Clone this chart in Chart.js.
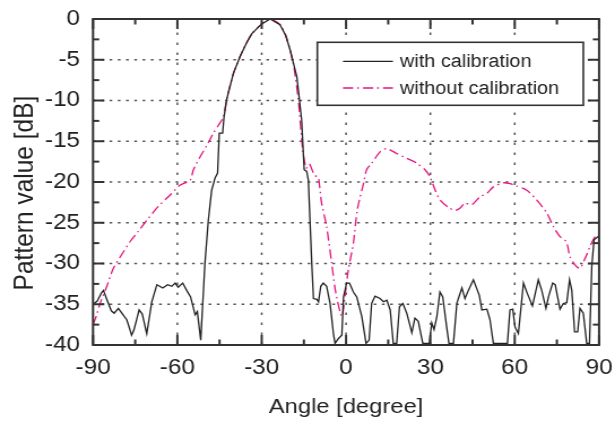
<!DOCTYPE html>
<html>
<head>
<meta charset="utf-8">
<script src="https://cdn.jsdelivr.net/npm/chart.js@4.4.1/dist/chart.umd.min.js"></script>
<style>
  html, body { margin: 0 ; padding: 0 ; background: #fff ; overflow: hidden ; }
  /* the source figure is stretched sideways, so the canvas is too */
  #wrap { width: 544px ; height: 423px ; transform: scaleX( 1.1305 ) ; transform-origin: 0 0 ; }
</style>
</head>
<body>
<div id="wrap"><canvas id="patternChart" width="544" height="423"></canvas></div>
<script>
// ---------------- Data -------------------------------------------------------
const X_TITLE = "Angle [degree]" ;
const Y_TITLE = "Pattern value [dB]" ;
const CAL_LABEL = "with calibration" ;
const RAW_LABEL = "without calibration" ;

const xTickValues = [ -90, -60, -30, 0, 30, 60, 90 ] ;
const yTickValues = [ 0, -5, -10, -15, -20, -25, -30, -35, -40 ] ;

const calAngles = [
  -90, -88.5, -87, -86.3, -85, -83.5, -82.5, -81, -79.5, -78, -77, -76.3, -75.5,
  -73.6, -72.5, -70.9, -69.1, -67.3, -65.2, -63.5, -62, -60.8, -59.7, -58.1,
  -56.7, -55.3, -53.7, -52.9, -51.7, -50.2, -49, -47.8, -46.6, -45.7, -45.1,
  -43.9, -43.4, -42.5, -40.1, -37.7, -35.5, -33.5, -30, -27, -23.5, -21.5,
  -19.9, -17.5, -15.8, -14.9, -14, -13.4, -12.2, -11.6, -10.4, -9.8, -9, -8.1,
  -6.9, -5.7, -4.5, -3.9, -2.7, -1.5, -0.9, 0.2, 1.2, 2.6, 3.8, 5.6, 7.1, 8.2,
  9.1, 10.3, 12.1, 13.3, 14.5, 15.7, 16.8, 18, 19, 20.2, 21.6, 23.4, 24.5,
  25.7, 27.3, 29.6, 30.5, 31.3, 32.3, 33.4, 34.4, 35.8, 36.6, 38.2, 39.4, 41.2,
  42.3, 43.5, 45.3, 47.4, 48.3, 50.1, 51.2, 52.4, 57.4, 58.3, 59.3, 60.1, 61.3,
  63.1, 64.5, 66.3, 68.4, 69.6, 71.1, 72, 73.5, 74.4, 76.1, 77.3, 78.5, 79.5,
  80.3, 81.3, 82.4, 83.2, 84.4, 85.6, 86.6, 87.4, 88.2, 89.7
] ;
const calValues = [
  -35, -34.6, -33.6, -33.3, -34.5, -35.8, -36.1, -35.5, -36.2, -36.9, -38, -38.8, -38.2,
  -35.7, -36.2, -38.6, -34.7, -32.6, -33, -32.6, -32.8, -32.4, -32.9, -32.4,
  -33.3, -34.1, -36.3, -35.9, -39.4, -30, -24.7, -21, -19.5, -18.9, -14,
  -14, -12, -9.9, -6.7, -4.6, -3, -1.8, -0.6, 0, -0.7, -2,
  -3.8, -7.1, -12.4, -18.5, -18.7, -19.8, -30, -34.3, -34.4, -34.7, -32.8, -32.4,
  -32.8, -34.9, -38.6, -39.8, -39.2, -38.8, -34.1, -32.4, -32.4, -33.5, -34.1, -36.5, -39.8, -39.4,
  -34.9, -34, -34.3, -34.7, -34.5, -35.7, -39.8, -39.8, -35.3, -34.9, -36.1, -38.5, -36.7,
  -37.1, -39.8, -39.8, -37.3, -38.1, -36.5, -33.5, -34.1, -37.8, -39.8, -39.8, -34.9, -33,
  -34.3, -33.3, -32, -33.9, -35.7, -35.6, -36.9, -39.8, -39.8, -35.7, -35.6, -37.8, -38.6,
  -32.4, -33.7, -35.2, -32, -33.3, -35.5, -34.1, -32.4, -32.6, -35.6, -34.9, -34.8, -32,
  -33.3, -38.4, -38.4, -35.5, -36.1, -39.8, -39.8, -30.4, -27.1, -26.7
] ;

const rawAngles = [
  -90, -88.9, -87.5, -85.1, -82.8, -79.8, -76.8, -73.8, -70.9, -66.8, -62.6,
  -59.1, -55.5, -54.3, -51.9, -49.5, -47.2, -45.5, -43.6, -42.5, -40.1, -37.7,
  -35.5, -33.5, -30, -27, -23.5, -21.5, -19.9, -18.5, -17, -15.4, -14.2, -13.2,
  -12.8, -11.6, -10.4, -9.8, -8.7, -6.9, -5.1, -3.6, -1.5, -0.4, 0.8, 2.6, 4,
  6.2, 7.3, 9.1, 12.1, 14.5, 18, 21.6, 25.2, 28.1, 29.9, 31.7, 33.4, 36.4, 38.8,
  40.6, 42.3, 44.7, 47.7, 50.1, 52.4, 56, 58.3, 60.7, 64.3, 67.8, 71.4, 73.8,
  76.1, 78.3, 79.7, 81.5, 83.2, 85, 86.8, 88.6, 90
] ;
const rawValues = [
  -37.5, -36.5, -34.9, -32.8, -30.6, -28.9, -27.3, -26, -24.7, -23, -21.6,
  -20.4, -19.8, -18.5, -16.9, -15.5, -14, -13.1, -12, -9.9, -6.7, -4.6,
  -3, -1.8, -0.6, 0, -0.7, -2, -3.8, -6, -9.9, -16.1, -18.3, -17.8,
  -17.9, -18.9, -19.4, -19.5, -22.6, -25.5, -30, -33.7, -36.5, -34.1, -30.8, -27.5, -23.4,
  -20.2, -18.5, -17.7, -16.3, -15.9, -16.5, -17.1, -17.7, -18.5, -19.4, -21, -22.2, -23.1, -23.5,
  -23.2, -22.6, -22.8, -21.8, -21.4, -20.6, -20.1, -20.2, -20.5, -21, -22.2, -23.8, -25.5,
  -26.7, -27.3, -29.2, -30.2, -30.6, -29.4, -27.9, -26.7, -26.5
] ;

// ---------------- Styles -----------------------------------------------------
const FONT_FAMILY = "'Liberation Sans', Arial, sans-serif" ;
const TEXT_COLOR = "#222" ;
const FRAME_COLOR = "#333" ;
const GRID_COLOR = "#555" ;
const CAL_COLOR = "#222" ;
const RAW_COLOR = "#e5157f" ;

function toPoints( xs, ys ) {
    return xs.map( function( x, i ) { return { x: x, y: ys[i] } ; } ) ;
}

// Major values come from the scale, minor marks sit half way between them
function minorValues( majors ) {
    var out = [] ;
    for( var i=1; i<majors.length; i++ ) {
        out.push( ( majors[i-1] + majors[i] ) / 2 ) ;
    }
    return out ;
}

function line( ctx, x1, y1, x2, y2 ) {
    ctx.beginPath() ;
    ctx.moveTo( x1, y1 ) ;
    ctx.lineTo( x2, y2 ) ;
    ctx.stroke() ;
}

// ---------------- Frame, grid, ticks and legend ------------------------------
const patternFrame = {
    id : 'patternFrame',

    beforeDatasetsDraw( chart ) {
        const ctx = chart.ctx ;
        const a = chart.chartArea ;
        const xs = chart.scales.x ;
        const ys = chart.scales.y ;
        const xMajor = xs.ticks.map( t => t.value ) ;
        const yMajor = ys.ticks.map( t => t.value ) ;

        ctx.save() ;
        ctx.strokeStyle = GRID_COLOR ;
        ctx.lineWidth = 1.5 ;

        ctx.setLineDash( [ 2.5, 7.5 ] ) ;
        xMajor.slice( 1, -1 ).forEach( v => {
            const px = xs.getPixelForValue( v ) ;
            line( ctx, px, a.bottom, px, a.top ) ;
        } ) ;

        ctx.setLineDash( [ 2.4, 4.9 ] ) ;
        yMajor.slice( 1, -1 ).forEach( v => {
            const py = ys.getPixelForValue( v ) ;
            line( ctx, a.left, py, a.right, py ) ;
        } ) ;
        ctx.restore() ;
    },

    afterDatasetsDraw( chart ) {
        const ctx = chart.ctx ;
        const a = chart.chartArea ;
        const xs = chart.scales.x ;
        const ys = chart.scales.y ;
        const xMajor = xs.ticks.map( t => t.value ) ;
        const yMajor = ys.ticks.map( t => t.value ) ;

        ctx.save() ;
        ctx.strokeStyle = FRAME_COLOR ;
        ctx.lineWidth = 2 ;
        ctx.setLineDash( [] ) ;

        // inward ticks on all four sides
        function xTick( v, len ) {
            const px = xs.getPixelForValue( v ) ;
            line( ctx, px, a.bottom, px, a.bottom - len ) ;
            line( ctx, px, a.top, px, a.top + len ) ;
        }
        function yTick( v, len ) {
            const py = ys.getPixelForValue( v ) ;
            line( ctx, a.left, py, a.left + len, py ) ;
            line( ctx, a.right, py, a.right - len, py ) ;
        }
        xMajor.forEach( v => xTick( v, 10 ) ) ;
        minorValues( xMajor ).forEach( v => xTick( v, 5.5 ) ) ;
        yMajor.forEach( v => yTick( v, 10 ) ) ;
        minorValues( yMajor ).forEach( v => yTick( v, 5.5 ) ) ;

        ctx.strokeRect( a.left, a.top, a.right - a.left, a.bottom - a.top ) ;

        // y title, sits a little below the middle of the plot
        ctx.fillStyle = TEXT_COLOR ;
        ctx.font = "24.5px " + FONT_FAMILY ;
        ctx.textAlign = "center" ;
        ctx.textBaseline = "middle" ;
        ctx.save() ;
        ctx.translate( 22.1, ( a.top + a.bottom ) / 2 + 11 ) ;
        ctx.rotate( -Math.PI / 2 ) ;
        ctx.fillText( Y_TITLE, 0, 0 ) ;
        ctx.restore() ;

        // legend box
        const box = { left: 280.7, top: 42.3, right: 516, bottom: 105.3 } ;
        ctx.fillStyle = "#fff" ;
        ctx.fillRect( box.left, box.top, box.right - box.left, box.bottom - box.top ) ;
        ctx.lineWidth = 1.6 ;
        ctx.strokeStyle = FRAME_COLOR ;
        ctx.strokeRect( box.left, box.top, box.right - box.left, box.bottom - box.top ) ;

        const rows = [ 61.3, 88 ] ;
        ctx.font = "17.6px " + FONT_FAMILY ;
        ctx.textAlign = "left" ;
        chart.data.datasets.forEach( ( ds, i ) => {
            ctx.strokeStyle = ds.borderColor ;
            ctx.lineWidth = ds.borderWidth ;
            ctx.setLineDash( ds.borderDash || [] ) ;
            line( ctx, 303.4, rows[i], 347.6, rows[i] ) ;
            ctx.fillStyle = TEXT_COLOR ;
            ctx.fillText( ds.label, 353.8, rows[i] + 1 ) ;
        } ) ;
        ctx.restore() ;
    }
} ;

// ---------------- Chart ------------------------------------------------------
Chart.defaults.font.family = FONT_FAMILY ;
Chart.defaults.color = TEXT_COLOR ;

const canvas = document.getElementById( 'patternChart' ) ;
const chart = new Chart( canvas, {
    type : 'line',
    data : {
        datasets : [
            {
                label           : CAL_LABEL,
                data            : toPoints( calAngles, calValues ),
                borderColor     : CAL_COLOR,
                backgroundColor : CAL_COLOR,
                borderWidth     : 1.3,
                tension         : 0,
                pointRadius     : 0,
                order           : 1
            },
            {
                label           : RAW_LABEL,
                data            : toPoints( rawAngles, rawValues ),
                borderColor     : RAW_COLOR,
                backgroundColor : RAW_COLOR,
                borderWidth     : 1.3,
                borderDash      : [ 9, 3.5, 1.5, 3.7 ],
                tension         : 0.25,
                pointRadius     : 0,
                order           : 2
            }
        ]
    },
    options : {
        responsive : false,
        animation : false,
        devicePixelRatio : 1,
        layout : { padding : { top: 19, right: 14.1, left: 0, bottom: 0 } },
        plugins : {
            legend : { display: false },
            tooltip : { enabled: false }
        },
        scales : {
            x : {
                type : 'linear',
                min : -90,
                max : 90,
                afterBuildTicks : s => { s.ticks = xTickValues.map( v => ( { value: v } ) ) ; },
                ticks : {
                    autoSkip : false,
                    maxRotation : 0,
                    padding : 10.5,
                    color : TEXT_COLOR,
                    font : { size: 21.5 }
                },
                grid : { display: false, drawTicks: false },
                border : { display: false },
                title : {
                    display : true,
                    text : X_TITLE,
                    color : TEXT_COLOR,
                    font : { size: 21 },
                    padding : { top: 0, bottom: 3.5 }
                },
                afterFit : s => {
                    s.height = 78 ;
                    s.paddingLeft = 0 ;
                    s.paddingRight = 0 ;
                }
            },
            y : {
                type : 'linear',
                min : -40,
                max : 0,
                afterBuildTicks : s => { s.ticks = yTickValues.map( v => ( { value: v } ) ) ; },
                ticks : {
                    autoSkip : false,
                    padding : 11.5,
                    color : TEXT_COLOR,
                    font : { size: 21.5 }
                },
                grid : { display: false, drawTicks: false },
                border : { display: false },
                afterFit : s => {
                    s.width = 82.3 ;
                    s.paddingTop = 0 ;
                    s.paddingBottom = 0 ;
                }
            }
        }
    },
    plugins : [ patternFrame ]
} ) ;
</script>
</body>
</html>
